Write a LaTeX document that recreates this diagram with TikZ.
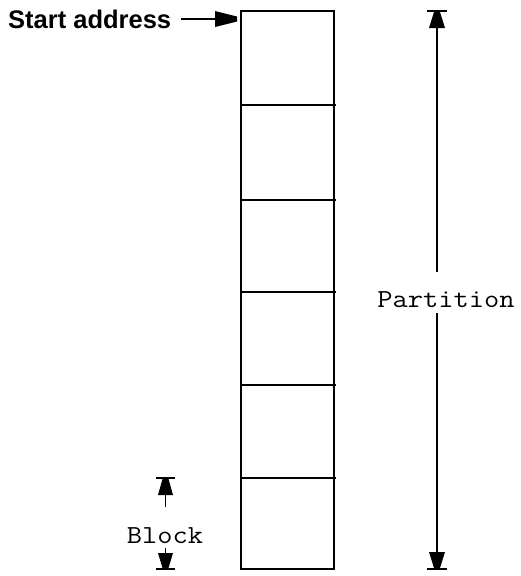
\documentclass[tikz,border=0pt]{standalone}
\usepackage{fontspec}
\setmainfont{Liberation Sans}
\setmonofont{Latin Modern Mono}[FakeStretch=1.14]
\begin{document}
\begin{tikzpicture}[x=1pt,y=-1pt,
  ln/.style={line width=1.2pt},
  shaft/.style={line width=1.4pt},
  barln/.style={line width=1.8pt},
  mono/.style={font=\ttfamily\fontsize{26}{28}\selectfont,inner sep=0pt}]
\useasboundingbox (0,0) rectangle (520,576);
% column of blocks
\draw[ln] (241,11) rectangle (334,569);
\foreach \yy in {105,200,292,385,478} \draw[ln] (241,\yy) -- (336,\yy);
% start address
\node[anchor=west,font=\bfseries\fontsize{25.5}{28}\selectfont,inner sep=0pt] (sa) at (8,19) {Start address};
\coordinate (sat) at (237,19);
\draw[shaft,line width=1.7pt] (sa.east) ++(10,0) coordinate (sas) -- (216,19);
\fill (237,16.5) -- (237,21.5) -- (215,27) -- (215,11) -- cycle;
% partition
\node[mono] (pt) at (446,300) {Partition};
\coordinate (ptop) at (437,11);
\coordinate (pbot) at (437,569);
\coordinate (pa) at (437,272);
\coordinate (pb) at (437,313);
\draw[barln] (427,11) -- (447,11);
\draw[barln] (427,569) -- (447,569);
\draw[shaft] (pa) -- (437,26);
\draw[shaft] (pb) -- (437,554);
\fill (434,12) -- (440,12) -- (445,28) -- (429,28) -- cycle;
\fill (434,568) -- (440,568) -- (445,552) -- (429,552) -- cycle;
% block
\node[mono] (bl) at (165,536) {Block};
\draw[barln] (156,478) -- (175,478);
\draw[barln] (156,569) -- (175,569);
\draw[shaft] (165.5,507) -- (165.5,492);
\draw[shaft] (165.5,548) -- (165.5,556);
\fill (162.5,479) -- (168.5,479) -- (173,495) -- (158,495) -- cycle;
\fill (162.5,568) -- (168.5,568) -- (173,553) -- (158,553) -- cycle;
\end{tikzpicture}
\end{document}
